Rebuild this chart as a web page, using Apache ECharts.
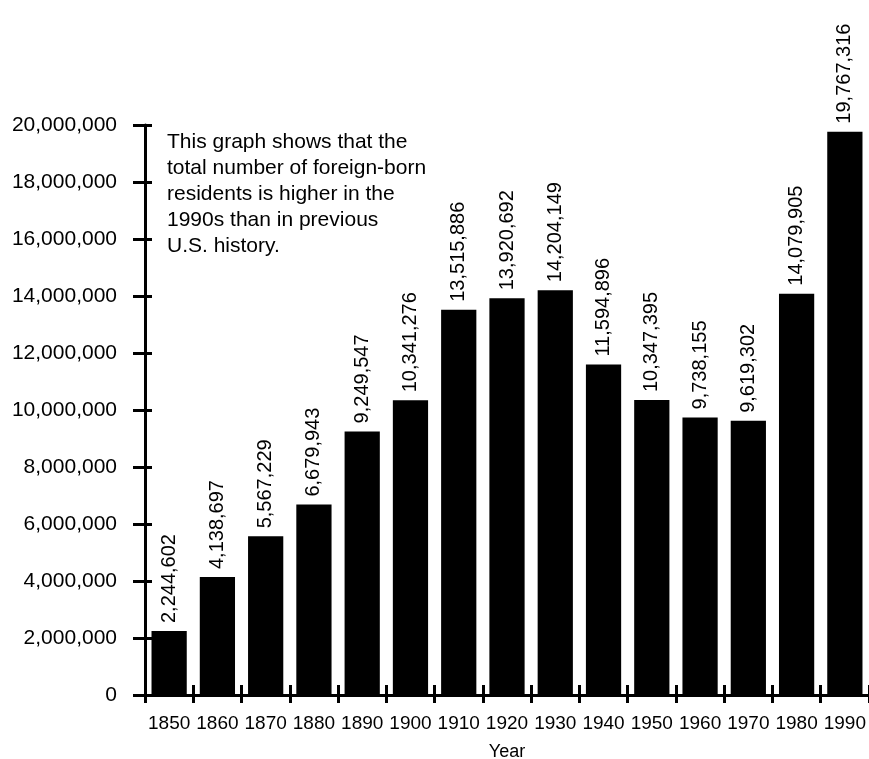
<!DOCTYPE html>
<html>
<head>
<meta charset="utf-8">
<script src="https://cdn.jsdelivr.net/npm/echarts@6/dist/echarts.min.js"></script>
<style>
html,body{margin:0;padding:0;background:#fff;}
#chart{width:869px;height:759px;}
</style>
</head>
<body>
<div id="chart"></div>
<script>
const years = ['1850','1860','1870','1880','1890','1900','1910','1920','1930','1940','1950','1960','1970','1980','1990'];
const foreignBorn = [2244602,4138697,5567229,6679943,9249547,10341276,13515886,13920692,14204149,11594896,10347395,9738155,9619302,14079905,19767316];
const yMin = 0, yMax = 20000000, yStep = 2000000;
const note = ['This graph shows that the','total number of foreign-born','residents is higher in the','1990s than in previous','U.S. history.'];

const FONT = '"Liberation Sans", Arial, Helvetica, sans-serif';
const fmt = v => Number(v).toLocaleString('en-US');

const chart = echarts.init(document.getElementById('chart'));
const grid = {left:145, right:0, top:125, bottom:64, containLabel:false, outerBoundsMode:'none'};
chart.setOption({
  backgroundColor:'#fff',
  animation:false,
  grid:grid,
  xAxis:[{
    type:'category', data:years, position:'bottom',
    axisLine:{lineStyle:{color:'#000', width:3}},
    axisTick:{show:true, interval:0, inside:false, length:8, lineStyle:{color:'#000', width:3}},
    axisLabel:{interval:0, color:'#000', fontFamily:FONT, fontSize:19, margin:19},
    name:'Year', nameLocation:'middle', nameGap:48,
    nameTextStyle:{color:'#000', fontFamily:FONT, fontSize:18}
  },{
    type:'category', data:years, position:'bottom',
    axisLine:{show:false},
    axisTick:{show:true, interval:0, inside:true, length:10, lineStyle:{color:'#000', width:3}},
    axisLabel:{show:false}
  }],
  yAxis:[{
    type:'value', min:yMin, max:yMax, interval:yStep,
    axisLine:{show:true, lineStyle:{color:'#000', width:3}},
    axisTick:{show:true, inside:false, length:12, lineStyle:{color:'#000', width:3}},
    axisLabel:{color:'#000', fontFamily:FONT, fontSize:21, margin:28, formatter:fmt},
    splitLine:{show:false}
  },{
    type:'value', min:yMin, max:yMax, interval:yStep, position:'left',
    axisLine:{show:false},
    axisTick:{show:true, inside:true, length:7, lineStyle:{color:'#000', width:3}},
    axisLabel:{show:false},
    splitLine:{show:false}
  }],
  graphic:[{
    type:'text', left:167, top:129,
    style:{text:note.join('\n'), fill:'#000', font:'21px ' + FONT, lineHeight:26}
  }],
  series:[{
    type:'bar', data:foreignBorn, xAxisIndex:0, yAxisIndex:0,
    barCategoryGap:'27%',
    itemStyle:{color:'#000'},
    label:{show:true, position:'top', rotate:90, align:'left', verticalAlign:'middle', distance:8,
      color:'#000', fontFamily:FONT, fontSize:20, formatter:p => fmt(p.value)}
  }]
});
</script>
</body>
</html>
